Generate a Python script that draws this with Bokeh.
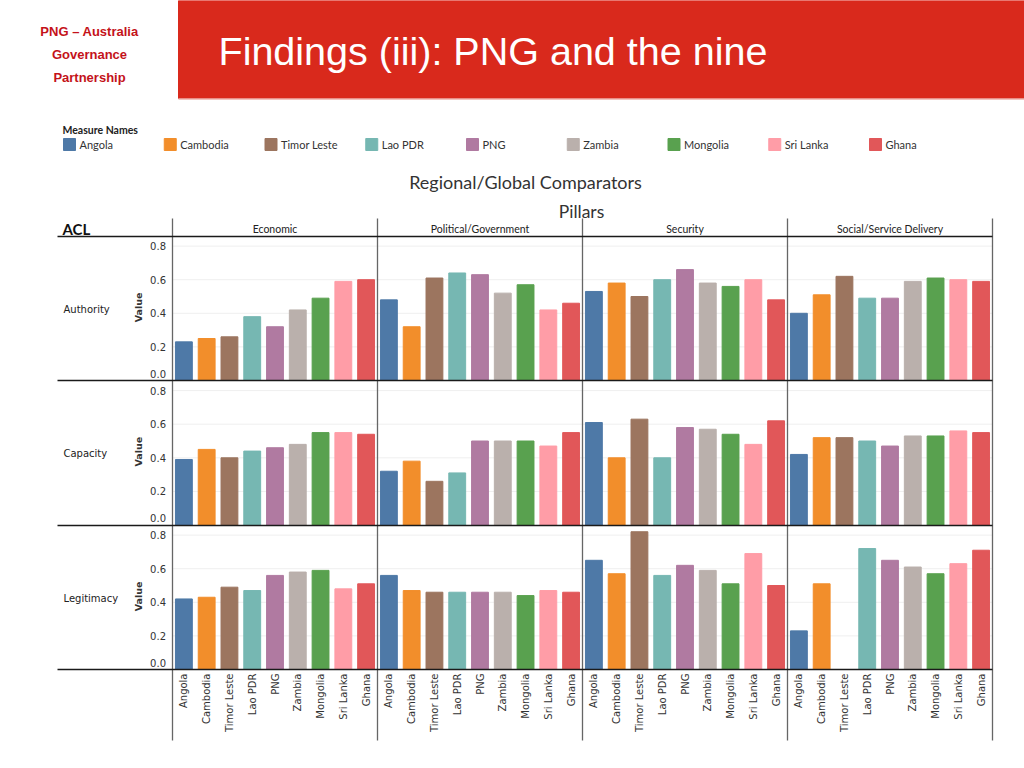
import math
from bokeh.plotting import figure
from bokeh.models import Range1d
from bokeh.core.properties import value
from bokeh.embed import file_html
from bokeh.resources import INLINE

# ---------------- data ----------------
countries = ["Angola", "Cambodia", "Timor Leste", "Lao PDR", "PNG",
             "Zambia", "Mongolia", "Sri Lanka", "Ghana"]
colors = ["#4e79a7", "#f28e2b", "#9c755f", "#76b7b2", "#b07aa1",
          "#bab0ac", "#59a14f", "#ff9da7", "#e15759"]
pillars = ["Economic", "Political/Government", "Security", "Social/Service Delivery"]
measures = ["Authority", "Capacity", "Legitimacy"]
y_ticks = [0.0, 0.2, 0.4, 0.6, 0.8]
y_tick_labels = ["0.0", "0.2", "0.4", "0.6", "0.8"]

authority_economic = [0.23, 0.25, 0.26, 0.38, 0.32, 0.42, 0.49, 0.59, 0.60]
authority_political = [0.48, 0.32, 0.61, 0.64, 0.63, 0.52, 0.57, 0.42, 0.46]
authority_security = [0.53, 0.58, 0.50, 0.60, 0.66, 0.58, 0.56, 0.60, 0.48]
authority_social = [0.40, 0.51, 0.62, 0.49, 0.49, 0.59, 0.61, 0.60, 0.59]

capacity_economic = [0.39, 0.45, 0.40, 0.44, 0.46, 0.48, 0.55, 0.55, 0.54]
capacity_political = [0.32, 0.38, 0.26, 0.31, 0.50, 0.50, 0.50, 0.47, 0.55]
capacity_security = [0.61, 0.40, 0.63, 0.40, 0.58, 0.57, 0.54, 0.48, 0.62]
capacity_social = [0.42, 0.52, 0.52, 0.50, 0.47, 0.53, 0.53, 0.56, 0.55]

legitimacy_economic = [0.42, 0.43, 0.49, 0.47, 0.56, 0.58, 0.59, 0.48, 0.51]
legitimacy_political = [0.56, 0.47, 0.46, 0.46, 0.46, 0.46, 0.44, 0.47, 0.46]
legitimacy_security = [0.65, 0.57, 0.82, 0.56, 0.62, 0.59, 0.51, 0.69, 0.50]
legitimacy_social = [0.23, 0.51, None, 0.72, 0.65, 0.61, 0.57, 0.63, 0.71]

rows_data = [
    [authority_economic, authority_political, authority_security, authority_social],
    [capacity_economic, capacity_political, capacity_security, capacity_social],
    [legitimacy_economic, legitimacy_political, legitimacy_security, legitimacy_social],
]

# ---------------- layout (page pixel coordinates) ----------------
W, H = 1024, 768
PANE_L, PANE_R = 172, 992    # bar panes horizontal extent
N_SLOTS = len(pillars) * len(countries)
UNIT = (PANE_R - PANE_L) / N_SLOTS
ROW_TOP = [236, 380, 525]
ROW_BASE = [380, 524.5, 669]
K = 168.0                    # pixels per value unit

p = figure(width=W, height=H, output_backend="svg", toolbar_location=None,
           x_range=Range1d(0, W), y_range=Range1d(H, 0),
           min_border=0, x_axis_location=None, y_axis_location=None)
p.grid.visible = False
p.outline_line_color = None
p.background_fill_color = "white"
p.border_fill_color = "white"

p.extra_x_ranges = {"bars": Range1d(-PANE_L / UNIT, (W - PANE_L) / UNIT)}
for r, base in enumerate(ROW_BASE):
    p.extra_y_ranges["r%d" % r] = Range1d((base - H) / K, base / K)

F_TAB = value("Lato")
F_DV = value("DejaVu Sans")
F_AR = value("Liberation Sans")

# ---------------- header ----------------
p.quad(left=[178], right=[W], top=[0], bottom=[98], color="#d9291c")
p.segment(x0=[178], x1=[W], y0=[98.5], y1=[98.5], line_color="#eeb1ab", line_width=1.5)
p.text(x=[218], y=[50], text=["Findings (iii): PNG and the nine"], text_font=F_AR,
       text_font_size=value("39.5px"), text_color="white", text_baseline="middle")
p.text(x=[89, 89, 89], y=[31, 54, 77], text=["PNG \u2013 Australia", "Governance", "Partnership"],
       text_font=F_AR, text_font_size=value("13px"), text_font_style="bold",
       text_color="#c4121a", text_align="center", text_baseline="middle")

# ---------------- legend ----------------
p.text(x=[62], y=[129], text=["Measure Names"], text_font=F_TAB, text_font_size=value("10.5px"),
       text_font_style="bold", text_color="#222222", text_baseline="middle")
leg_x = [63 + i * 100.75 for i in range(len(countries))]
p.quad(left=leg_x, right=[x + 12 for x in leg_x], top=[138] * 9, bottom=[150] * 9,
       color=colors)
p.text(x=[x + 16 for x in leg_x], y=[144] * 9, text=countries, text_font=F_TAB,
       text_font_size=value("11px"), text_color="#333333", text_baseline="middle")

# ---------------- titles ----------------
p.text(x=[525], y=[181], text=["Regional/Global Comparators"], text_font=F_TAB,
       text_font_size=value("18px"), text_color="#333333", text_align="center",
       text_baseline="middle")
p.text(x=[581], y=[211], text=["Pillars"], text_font=F_TAB, text_font_size=value("17.5px"),
       text_color="#333333", text_align="center", text_baseline="middle")
p.text(x=[62], y=[228], text=["ACL"], text_font=F_TAB, text_font_size=value("15px"),
       text_font_style="bold", text_color="#111111", text_baseline="middle")

col_centers = [(i + 0.5) * len(countries) for i in range(len(pillars))]
p.text(x=col_centers, y=[228] * 4, text=pillars, x_range_name="bars", text_font=F_TAB,
       text_font_size=value("10.5px"), text_color="#222222", text_align="center",
       text_baseline="middle")

# ---------------- panes ----------------
for r, meas in enumerate(measures):
    yr = "r%d" % r
    gt = y_ticks[1:]
    p.segment(x0=[0] * len(gt), x1=[N_SLOTS] * len(gt), y0=gt, y1=gt,
              x_range_name="bars", y_range_name=yr, line_color="#efefef", line_width=1)
    xs, tops, cols = [], [], []
    for pi_, series in enumerate(rows_data[r]):
        for ci, v in enumerate(series):
            if v is None:
                continue
            xs.append(pi_ * len(countries) + ci + 0.5)
            tops.append(v)
            cols.append(colors[ci])
    p.vbar(x=xs, top=tops, bottom=0, width=0.74, color=cols,
           x_range_name="bars", y_range_name=yr)
    p.text(x=[165.5] * 4, y=y_ticks[1:], text=y_tick_labels[1:], y_range_name=yr,
           text_font=F_DV, text_font_size=value("10px"), text_color="#333333",
           text_align="right", text_baseline="middle")
    p.text(x=[165.5], y=y_ticks[:1], text=y_tick_labels[:1], y_range_name=yr, y_offset=-7,
           text_font=F_DV, text_font_size=value("10px"), text_color="#333333",
           text_align="right", text_baseline="middle")
    mid = (ROW_TOP[r] + ROW_BASE[r]) / 2
    p.text(x=[138], y=[mid - 1], text=["Value"], angle=math.pi / 2, text_font=F_DV,
           text_font_size=value("9.5px"), text_font_style="bold", text_color="#333333",
           text_align="center", text_baseline="middle")
    p.text(x=[63], y=[mid + 1], text=[meas], text_font=F_DV, text_font_size=value("10px"),
           text_color="#222222", text_baseline="middle")

# x labels
lab_x = [pi_ * len(countries) + ci + 0.5 for pi_ in range(len(pillars)) for ci in range(len(countries))]
lab_t = [c for _ in pillars for c in countries]
p.text(x=lab_x, y=[673] * len(lab_x), text=lab_t, x_range_name="bars", angle=math.pi / 2,
       text_font=F_DV, text_font_size=value("10px"), text_color="#333333",
       text_align="right", text_baseline="middle")

# dividers
edges = [i * len(countries) for i in range(len(pillars) + 1)]
p.segment(x0=edges, x1=edges, y0=[218] * 5, y1=[740] * 5, x_range_name="bars",
          line_color="#666666", line_width=1.3)
hl = [236, 380, 525, 669]
p.segment(x0=[57] * 4, x1=[PANE_R] * 4, y0=hl, y1=hl, line_color="#1a1a1a", line_width=1.6)

open("out.html", "w").write(file_html(p, INLINE))
